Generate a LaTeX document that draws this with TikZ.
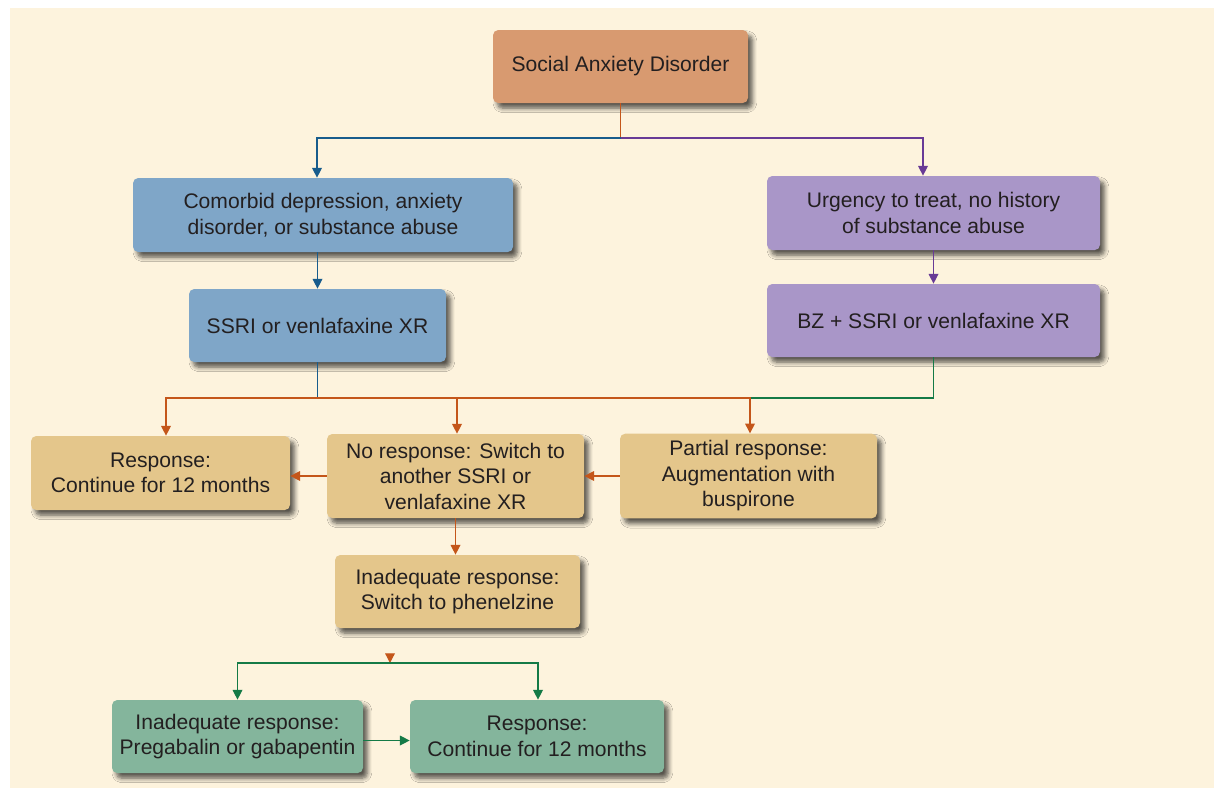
\documentclass[tikz,border=0pt]{standalone}
\usepackage{fontspec}
\setmainfont{Liberation Sans}
\definecolor{paper}{RGB}{253, 243, 221}
\definecolor{inktext}{RGB}{35, 31, 32}
\definecolor{sadfill}{RGB}{216, 154, 112}
\definecolor{bluefill}{RGB}{127, 166, 200}
\definecolor{purplefill}{RGB}{169, 150, 200}
\definecolor{tanfill}{RGB}{228, 198, 139}
\definecolor{greenfill}{RGB}{132, 181, 156}
\definecolor{blueline}{RGB}{24, 92, 140}
\definecolor{purpleline}{RGB}{104, 58, 150}
\definecolor{orangeline}{RGB}{196, 86, 26}
\definecolor{greenline}{RGB}{20, 122, 70}
\usepackage{tikz}
\usetikzlibrary{arrows.meta, positioning, shadows.blur}

\begin{document}
\begin{tikzpicture}[
  box/.style={rounded corners=3pt, align=center, inner sep=4pt, text=inktext,
    font=\fontsize{12}{14.5}\selectfont,
    blur shadow={shadow xshift=2.5pt, shadow yshift=-3pt, shadow opacity=65, shadow blur steps=6, shadow blur radius=2.5pt}},
  link/.style={line width=0.7pt},
  tip/.style={link, -{Triangle[width=5.5pt, length=5.5pt]}}
]
  % Page
  \useasboundingbox (0, 0) rectangle (24.28, -15.76);
  \fill[paper] (0.2, -0.16) rectangle (24.28, -15.76);

  % Start and the two branches
  \node[box, fill=sadfill, minimum width=5.1cm, minimum height=1.46cm] (sad) at (12.41, -1.33) {Social Anxiety Disorder};
  \node[box, fill=bluefill, minimum width=7.6cm, minimum height=1.48cm] (comorb) at (6.46, -4.30) {Comorbid depression, anxiety\\disorder, or substance abuse};
  \node[box, fill=bluefill, minimum width=5.14cm, minimum height=1.46cm] (ssri) at (6.35, -6.51) {SSRI or venlafaxine XR};
  \node[box, fill=purplefill, minimum width=6.66cm, minimum height=1.48cm] (urgency) at (18.67, -4.26) {Urgency to treat, no history\\of substance abuse};
  \node[box, fill=purplefill, minimum width=6.66cm, minimum height=1.46cm] (bzssri) at (18.67, -6.41) {BZ + SSRI or venlafaxine XR};

  % Responses
  \node[box, fill=tanfill, minimum width=5.18cm, minimum height=1.48cm] (resp) at (3.21, -9.46) {Response:\\Continue for 12 months};
  \node[box, fill=tanfill, minimum width=5.14cm, minimum height=1.68cm] (noresp) at (9.11, -9.52) {No response: Switch to\\another SSRI or\\venlafaxine XR};
  \node[box, fill=tanfill, minimum width=5.14cm, minimum height=1.68cm] (partial) at (14.97, -9.52) {Partial response:\\Augmentation with\\buspirone};
  \node[box, fill=tanfill, minimum width=4.9cm, minimum height=1.46cm] (phenel) at (9.15, -11.83) {Inadequate response:\\Switch to phenelzine};

  % Last step
  \node[box, fill=greenfill, minimum width=5.02cm, minimum height=1.46cm] (pregab) at (4.75, -14.73) {Inadequate response:\\Pregabalin or gabapentin};
  \node[box, fill=greenfill, minimum width=5.08cm, minimum height=1.46cm] (resp2) at (10.74, -14.73) {Response:\\Continue for 12 months};

  % Junctions
  \coordinate (split1) at (12.41, -2.76);
  \coordinate (split2) at (6.35, -7.96);
  \coordinate (join2) at (15.0, -7.96);
  \coordinate (split3) at (7.8, -13.26);
  \coordinate (mark3) at (7.8, -13.12);

  \draw[link, orangeline] (sad.south) -- (split1);
  \draw[tip, blueline] (split1) -| ([xshift=-0.12cm]comorb.north);
  \draw[tip, purpleline] (split1) -| ([xshift=-0.21cm]urgency.north);
  \draw[tip, blueline] (comorb.south -| ssri) -- (ssri.north);
  \draw[tip, purpleline] (urgency) -- (bzssri);

  \draw[link, blueline] (ssri.south) -- (split2);
  \draw[link, greenline] (bzssri.south) |- (join2);
  \draw[tip, orangeline] (split2) -| ([xshift=0.11cm]resp.north);
  \draw[tip, orangeline] (split2) -| ([xshift=0.03cm]noresp.north);
  \draw[tip, orangeline] (split2) -| (join2) -- (join2 |- partial.north);

  \draw[tip, orangeline] (partial) -- (noresp);
  \draw[tip, orangeline] (noresp.west) -- (noresp.west -| resp.east);
  \draw[tip, orangeline] (noresp.south) -- (noresp.south |- phenel.north);

  \draw[tip, orangeline] (mark3) -- (split3);
  \draw[tip, greenline] (split3) -| (pregab.north);
  \draw[tip, greenline] (split3) -| ([xshift=0.02cm]resp2.north);
  \draw[tip, greenline] ([yshift=-0.08cm]pregab.east) -- ([yshift=-0.08cm]resp2.west);
\end{tikzpicture}
\end{document}
